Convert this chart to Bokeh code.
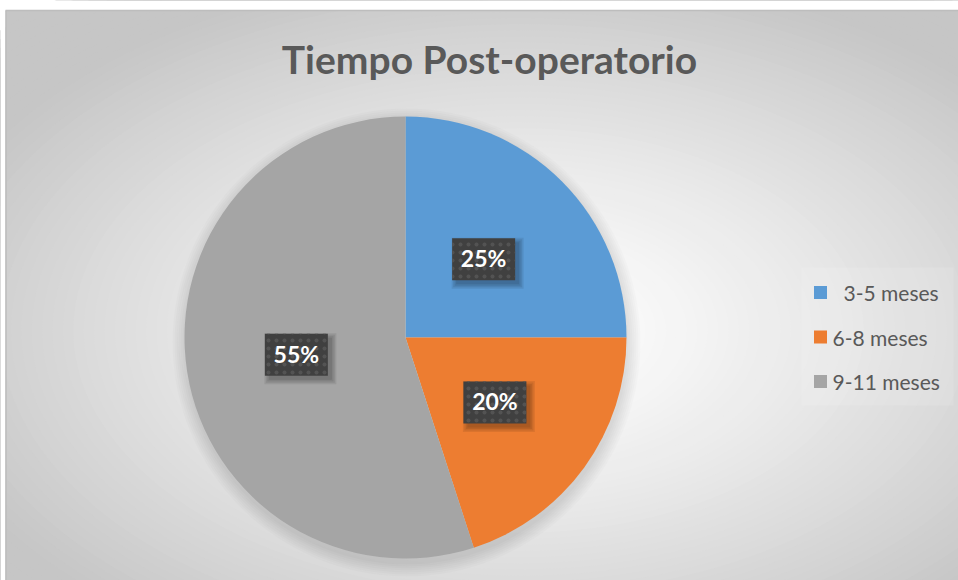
import numpy as np
from bokeh.plotting import figure
from bokeh.models import Range1d, ColumnDataSource
from bokeh.core.properties import value
from bokeh.embed import file_html
from bokeh.resources import INLINE

# ---- data ----
title_text = "Tiempo Post-operatorio"
categories = ["3-5 meses", "6-8 meses", "9-11 meses"]
shares = [25, 20, 55]
colors = ["#5B9BD5", "#ED7D31", "#A5A5A5"]
pct_labels = ["25%", "20%", "55%"]

W, H = 958, 580
p = figure(width=W, height=H, output_backend="svg", toolbar_location=None,
           x_range=Range1d(0, W), y_range=Range1d(0, H), min_border=0,
           background_fill_color="white", border_fill_color="white",
           outline_line_color=None)
p.axis.visible = False
p.grid.visible = False

# ---- chart frame with radial gradient (decoration) ----
fx0, fy0 = 5, 10
p.rect(x=(fx0 + W + 10) / 2, y=(H - fy0 - 10) / 2, width=W + 10 - fx0,
       height=H - fy0 + 10, fill_color="#c6c6c6", line_color=None)
gcx, gcy = 520, H - 330
N = 70
ts = np.linspace(1.0, 0.0, N, endpoint=False)
gw = 2 * 1.3 * 560 * ts
gh = 2 * 1.3 * 330 * ts
cols = []
for t in ts:
    c = int(round(255 - (255 - 198) * min(1.0, t / 0.85) ** 1.3))
    cols.append("#%02x%02x%02x" % (c, c, c))
p.ellipse(x=gcx, y=gcy, width=gw, height=gh, fill_color=cols, line_color=None)
# white page margins outside the frame
p.rect(x=[W / 2], y=[H - fy0 / 2], width=W + 20, height=fy0,
       fill_color="white", line_color=None)
p.rect(x=[fx0 / 2], y=[H / 2], width=fx0, height=H + 20,
       fill_color="white", line_color=None)
# frame border
p.rect(x=[fx0 + 0.5], y=[(H - fy0) / 2], width=1.5, height=H - fy0,
       fill_color="#bdbdbd", line_color=None)
p.rect(x=[(fx0 + W) / 2], y=[H - fy0], width=W - fx0, height=1.5,
       fill_color="#bdbdbd", line_color=None)

# ---- pie ----
cx, cy, R = 405, H - 337, 221
# soft shadow
for k in range(7):
    p.circle(x=cx + 1, y=cy - 5, radius=R + 1 + k * 2.0, fill_color="black",
             fill_alpha=0.014, line_color=None)

frac = np.array(shares, dtype=float) / sum(shares)
cum = np.concatenate([[0], np.cumsum(frac)])
start = np.pi / 2 - 2 * np.pi * cum[:-1]
end = np.pi / 2 - 2 * np.pi * cum[1:]
src = ColumnDataSource(dict(start=start, end=end, color=colors))
p.wedge(x=cx, y=cy, radius=R, start_angle="start", end_angle="end",
        direction="clock", fill_color="color", line_color=None, source=src)

# ---- data labels ----
mid = (start + end) / 2
lx = cx + 0.5 * R * np.cos(mid)
ly = cy + 0.5 * R * np.sin(mid)
bw, bh = 63, 42
for k in range(4):
    p.rect(x=lx + 4, y=ly - 4, width=bw + k * 3, height=bh + k * 3,
           fill_color="black", fill_alpha=0.08, line_color=None)
p.rect(x=lx, y=ly, width=bw, height=bh, fill_color="#404040", line_color=None,
       hatch_pattern="dot", hatch_color="#535353", hatch_scale=8, hatch_weight=4)
p.text(x=lx, y=ly + 1, text=pct_labels, text_color="white",
       text_font=value("Lato"), text_font_style="bold", text_font_size="23px",
       text_align="center", text_baseline="middle")

# ---- title ----
p.text(x=[489], y=[H - 58], text=[title_text], text_color="#595959",
       text_font=value("Lato"), text_font_style="bold", text_font_size="39px",
       text_align="center", text_baseline="middle")

# ---- legend ----
p.rect(x=[877], y=[H - 336], width=152, height=138, fill_color="white",
       fill_alpha=0.12, line_color=None)
idx = np.arange(len(categories))
legy = (H - 292) - idx * 44.5
legx = [843, 832, 832]
p.rect(x=820, y=legy, width=13, height=13, fill_color=colors, line_color=None)
p.text(x=legx, y=legy, text=categories, text_color="#595959",
       text_font=value("Lato"), text_font_size="21px",
       text_align="left", text_baseline="middle")

open("out.html", "w").write(file_html(p, INLINE))
